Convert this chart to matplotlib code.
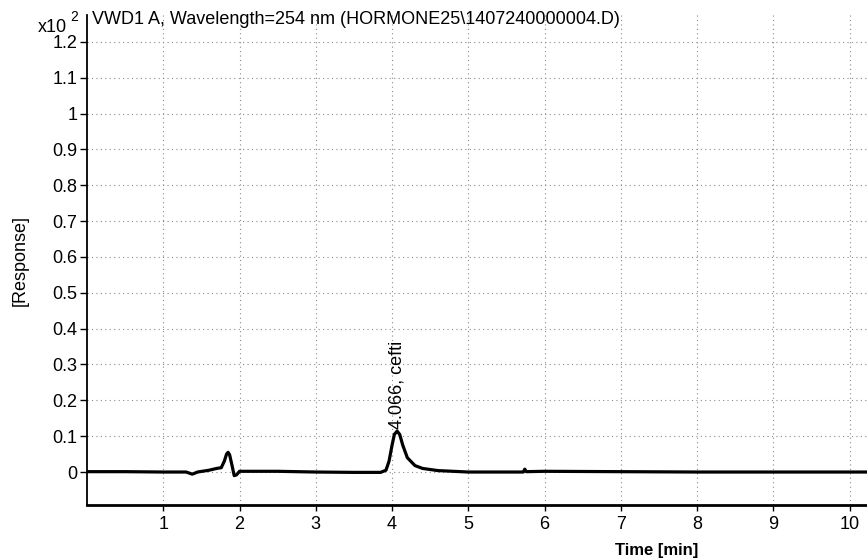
import matplotlib
matplotlib.use('Agg')
import matplotlib.pyplot as plt

plt.rcParams['font.family'] = ['Liberation Sans', 'DejaVu Sans']

# trace (response in units of x10^2)
time_min = [0.0, 0.5, 1.0, 1.3, 1.38, 1.45, 1.6, 1.7, 1.76, 1.8, 1.83, 1.85,
            1.87, 1.9, 1.93, 1.96, 2.0, 2.5, 3.0, 3.5, 3.85, 3.92, 3.96, 4.0,
            4.03, 4.066, 4.1, 4.14, 4.2, 4.3, 4.4, 4.6, 4.8, 5.0, 5.5, 5.72,
            5.74, 5.76, 6.0, 7.0, 8.0, 9.0, 10.0, 11.0, 12.0, 13.0, 14.0, 15.0]
response = [0.001, 0.001, 0.0, 0.0, -0.006, 0.0, 0.005, 0.01, 0.012, 0.03,
            0.05, 0.055, 0.048, 0.02, -0.01, -0.008, 0.002, 0.002, 0.0,
            -0.001, -0.001, 0.005, 0.03, 0.075, 0.105, 0.114, 0.105, 0.075,
            0.04, 0.018, 0.01, 0.004, 0.002, 0.0, 0.0, 0.0, 0.008, 0.001,
            0.002, 0.001, 0.0, 0.0, 0.0, 0.0, 0.0, 0.0, 0.0, 0.0]

peak_time = 4.066
peak_height = 0.114
peak_label = '4.066, cefti'

y_ticks = [0, 0.1, 0.2, 0.3, 0.4, 0.5, 0.6, 0.7, 0.8, 0.9, 1, 1.1, 1.2]
y_tick_labels = ['0', '0.1', '0.2', '0.3', '0.4', '0.5', '0.6', '0.7',
                 '0.8', '0.9', '1', '1.1', '1.2']
x_ticks = list(range(1, 11))

title = 'VWD1 A, Wavelength=254 nm (HORMONE25\\1407240000004.D)'

fig = plt.figure(figsize=(8.67, 5.6), dpi=100)
# the original page is cropped on the right, so the axes run past the edge
ax = fig.add_axes([87 / 867, 1 - 505 / 560, 1144 / 867, 490 / 560])

ax.plot(time_min, response, color='black', lw=2.3)
ax.set_xlim(0, 15)
ax.set_ylim(-0.092, 1.275)

ax.set_yticks(y_ticks)
ax.set_yticklabels(y_tick_labels)
ax.set_xticks(x_ticks)
ax.tick_params(axis='both', labelsize=13, colors='black', direction='out')
ax.tick_params(axis='y', length=5, width=1, pad=2)
ax.tick_params(axis='x', length=4, width=1, pad=4)

ax.grid(True, color='#8a8a8a', linestyle=(0, (1, 3)), lw=0.8)
for side in ['top', 'right']:
    ax.spines[side].set_visible(False)
ax.spines['left'].set_linewidth(1.3)
ax.spines['bottom'].set_linewidth(2.0)

ax.text(peak_time, peak_height + 0.006, peak_label, rotation=90,
        ha='center', va='bottom', fontsize=13)

ax.set_ylabel('[Response]', fontsize=13, labelpad=17)
fig.text(657 / 867, 1 - 551 / 560, 'Time [min]', ha='center', va='center',
         fontsize=12, fontweight='bold')

fig.text(92 / 867, 1 - 20 / 560, title, ha='left', va='center', fontsize=13)
fig.text(67 / 867, 1 - 27 / 560, 'x10', ha='right', va='center', fontsize=13)
fig.text(70 / 867, 1 - 17 / 560, '2', ha='left', va='center', fontsize=10)

plt.savefig('out.png', dpi=100)
